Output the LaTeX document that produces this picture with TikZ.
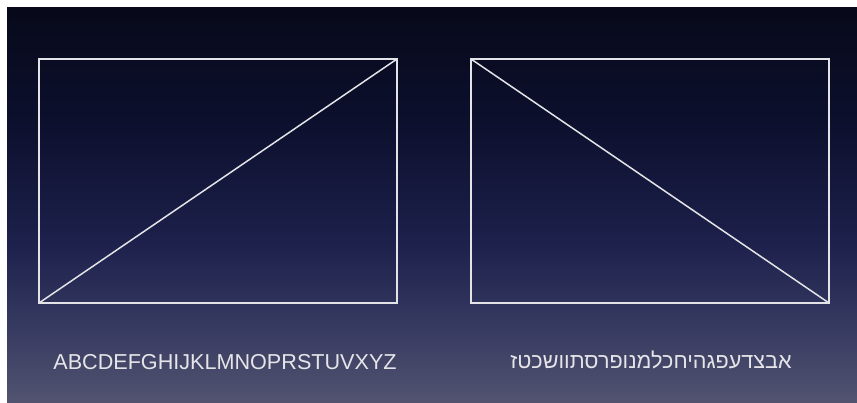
\documentclass[tikz,border=0pt]{standalone}
\usepackage{fontspec}
\usepackage{xcolor}
\usepackage{tikz}
\usetikzlibrary{positioning}
\setmainfont{Liberation Sans}
\newfontfamily\hebfont[Script=Hebrew]{Liberation Sans}
\TeXXeTstate=1
\definecolor{slidetop}{RGB}{7,9,26}
\definecolor{slideup}{RGB}{13,16,46}
\definecolor{slidemid}{RGB}{29,33,76}
\definecolor{slidelow}{RGB}{54,57,96}
\definecolor{slidebot}{RGB}{82,84,112}
\definecolor{chalk}{RGB}{228,228,232}
\pgfdeclareverticalshading{slidefade}{100bp}{
  color(0bp)=(slidebot); color(25bp)=(slidebot); color(35bp)=(slidelow);
  color(45bp)=(slidemid); color(60bp)=(slideup); color(75bp)=(slidetop);
  color(100bp)=(slidetop)}

\begin{document}
\begin{tikzpicture}[
    x=1pt, y=-1pt,
    frame/.style={
      rectangle, draw=chalk, line width=1.6pt,
      minimum width=358pt, minimum height=244pt,
      inner sep=0pt, outer sep=0pt
    },
    diag/.style={draw=chalk, line width=1.5pt},
    caption/.style={anchor=base, text=chalk!95, font=\fontsize{21.6}{25}\selectfont}
  ]
    \useasboundingbox (0,0) rectangle (857,403);
    \fill[white] (0,0) rectangle (857,403);
    \shade[shading=slidefade] (7,8) rectangle (857,403);
    \node[frame] (ltr) at (218,181) {};
    \node[frame] (rtl) at (650,181) {};
    \draw[diag] (ltr.south west) -- (ltr.north east);
    \draw[diag] (rtl.north west) -- (rtl.south east);
    \node[caption] (latin) at (225,370) {ABCDEFGHIJKLMNOPRSTUVXYZ};
    \node[caption] (hebrew) at (651,369) {\hebfont\beginR אבצדעפגהיחכלמנופרסתוושכטז\endR};
  \end{tikzpicture}
\end{document}
